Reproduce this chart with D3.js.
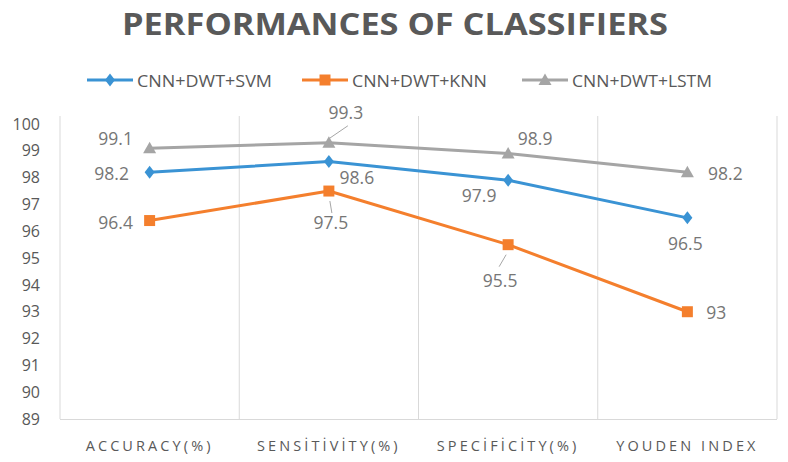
<!DOCTYPE html>
<html>
<head>
<meta charset="utf-8">
<script src="https://cdn.jsdelivr.net/npm/d3@7"></script>
<style>
  html, body { margin: 0; padding: 0; background: #fff; }
  svg { display: block; }
</style>
</head>
<body>
<svg id="chart" width="788" height="462"></svg>
<script>
const title = "PERFORMANCES OF CLASSIFIERS";
const categories = ["ACCURACY(%)", "SENSİTİVİTY(%)", "SPECİFİCİTY(%)", "YOUDEN INDEX"];
const seriesNames = ["CNN+DWT+SVM", "CNN+DWT+KNN", "CNN+DWT+LSTM"];
const svmValues = [98.2, 98.6, 97.9, 96.5];
const knnValues = [96.4, 97.5, 95.5, 93];
const lstmValues = [99.1, 99.3, 98.9, 98.2];
const yTicks = [89, 90, 91, 92, 93, 94, 95, 96, 97, 98, 99, 100];

// label placement per point: [dx, dy, leader?]
const series = [
  { name: seriesNames[0], values: svmValues, color: "#3a93d4", marker: "diamond",
    labels: [[-38, 1], [28, 15], [-29, 15], [-2, 25]] },
  { name: seriesNames[1], values: knnValues, color: "#f47f2d", marker: "square",
    labels: [[-34, 1], [2, 31, [[1, 10], [3, 22]]], [-8, 35, [[-2, 10], [-9, 22]]], [29, 0]] },
  { name: seriesNames[2], values: lstmValues, color: "#a5a5a5", marker: "triangle",
    labels: [[-34, -10], [17, -31, [[19, -17], [0, -4]]], [27, -16], [38, 1]] }
];

const svg = d3.select("#chart");
const margin = { left: 60, right: 11, top: 124, bottom: 43 };
const W = 788, H = 462;

const x = d3.scaleBand().domain(categories).range([margin.left, W - margin.right]).padding(0);
const y = d3.scaleLinear().domain([89, 100]).range([H - margin.bottom, margin.top]);

const textColor = "#595959";
const labelColor = "#767676";

// title
svg.append("text")
  .attr("x", 395).attr("y", 35)
  .attr("text-anchor", "middle")
  .attr("font-family", "'Open Sans', sans-serif")
  .attr("font-weight", "bold")
  .attr("font-size", 30)
  .attr("fill", textColor)
  .attr("textLength", 546)
  .attr("lengthAdjust", "spacingAndGlyphs")
  .text(title);

// vertical gridlines at band boundaries
const bounds = categories.map(c => x(c)).concat([x(categories[categories.length - 1]) + x.bandwidth()]);
svg.append("g").selectAll("line").data(bounds).join("line")
  .attr("x1", d => d).attr("x2", d => d)
  .attr("y1", y(100) - 8).attr("y2", y(89))
  .attr("stroke", "#d9d9d9").attr("stroke-width", 1);

// x axis baseline
const xAxis = d3.axisBottom(x).tickSize(0).tickPadding(0);
const gx = svg.append("g").attr("transform", `translate(0,${y(89)})`).call(xAxis);
gx.select(".domain").attr("stroke", "#d9d9d9").attr("d", `M${margin.left},0.5H${W - margin.right}`);
gx.selectAll(".tick text")
  .attr("y", 22)
  .attr("font-family", "'Open Sans', sans-serif")
  .attr("font-size", 14.5)
  .attr("letter-spacing", "3.1px")
  .attr("fill", textColor);

// y axis labels
const yAxis = d3.axisLeft(y).tickValues(yTicks).tickSize(0).tickPadding(0).tickFormat(d3.format("d"));
const gy = svg.append("g").attr("transform", `translate(40,0)`).call(yAxis);
gy.select(".domain").remove();
gy.selectAll(".tick text")
  .attr("font-family", "'Open Sans', sans-serif")
  .attr("font-size", 16)
  .attr("fill", textColor);

const cx = c => x(c) + x.bandwidth() / 2;

function markerPath(type) {
  if (type === "diamond") return "M0,-6.5L5,0L0,6.5L-5,0Z";
  if (type === "square") return "M-5.5,-5.5H5.5V5.5H-5.5Z";
  return "M0,-6.5L6.5,5L-6.5,5Z";
}

const line = d3.line().x((d, i) => cx(categories[i])).y(d => y(d));

series.forEach(s => {
  svg.append("path").datum(s.values)
    .attr("d", line)
    .attr("fill", "none")
    .attr("stroke", s.color)
    .attr("stroke-width", 3)
    .attr("stroke-linejoin", "round");
  svg.append("g").selectAll("path").data(s.values).join("path")
    .attr("transform", (d, i) => `translate(${cx(categories[i])},${y(d)})`)
    .attr("d", markerPath(s.marker))
    .attr("fill", s.color);
});

// data labels
series.forEach(s => {
  s.values.forEach((v, i) => {
    const px = cx(categories[i]), py = y(v);
    const lab = s.labels[i];
    if (lab[2]) {
      svg.append("line")
        .attr("x1", px + lab[2][0][0]).attr("y1", py + lab[2][0][1])
        .attr("x2", px + lab[2][1][0]).attr("y2", py + lab[2][1][1])
        .attr("stroke", "#a6a6a6").attr("stroke-width", 1);
    }
    svg.append("text")
      .attr("x", px + lab[0]).attr("y", py + lab[1])
      .attr("text-anchor", "middle")
      .attr("dominant-baseline", "central")
      .attr("font-family", "'Open Sans', sans-serif")
      .attr("font-size", 17.5)
      .attr("fill", labelColor)
      .text(d3.format("")(v));
  });
});

// legend
const legendX = [87, 302, 522];
const legendTextW = [135, 135, 140];
const legendY = 80;
const lg = svg.append("g");
series.forEach((s, i) => {
  const g = lg.append("g").attr("transform", `translate(${legendX[i]},${legendY})`);
  g.append("line").attr("x1", 0).attr("x2", 46).attr("y1", 0).attr("y2", 0)
    .attr("stroke", s.color).attr("stroke-width", 3);
  g.append("path").attr("transform", "translate(23,0)").attr("d", markerPath(s.marker)).attr("fill", s.color);
  g.append("text").attr("x", 50).attr("y", 0)
    .attr("dominant-baseline", "central")
    .attr("font-family", "'Open Sans', sans-serif")
    .attr("font-size", 17)
    .attr("fill", textColor)
    .attr("textLength", legendTextW[i])
    .attr("lengthAdjust", "spacingAndGlyphs")
    .text(s.name);
});
</script>
</body>
</html>
